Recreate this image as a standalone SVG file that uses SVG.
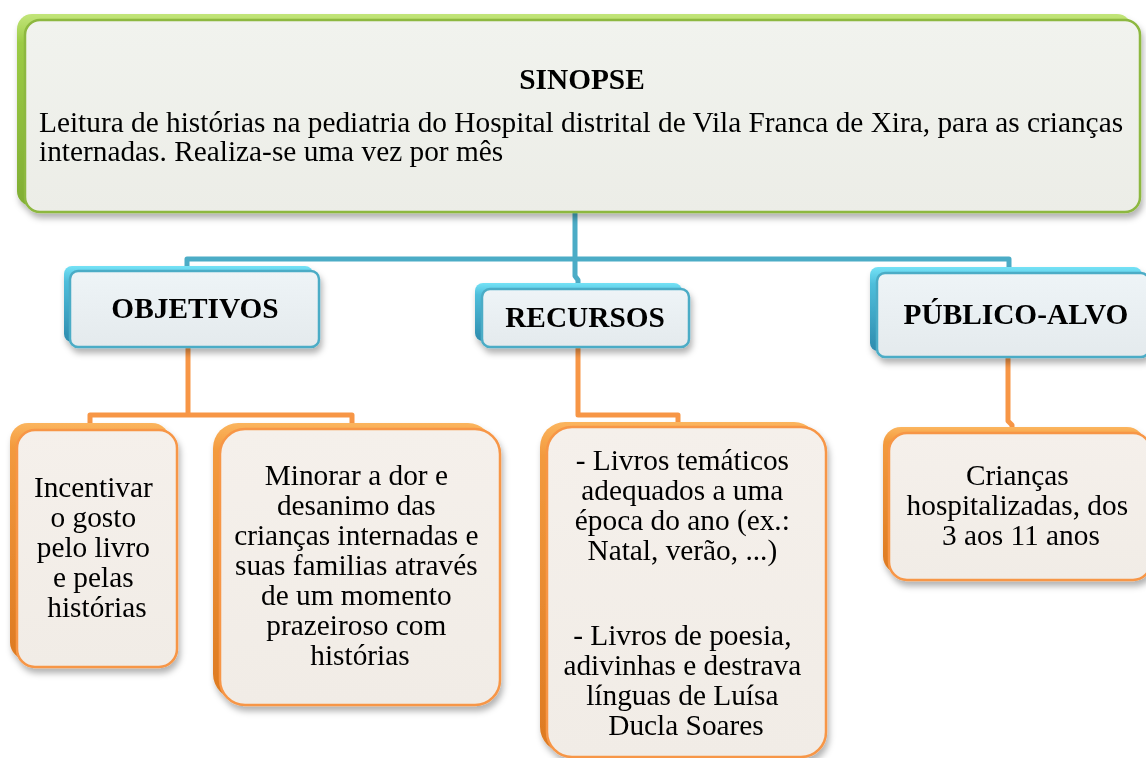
<svg xmlns="http://www.w3.org/2000/svg" width="1146" height="758" viewBox="0 0 1146 758">
  <defs>
    <filter id="sh" x="-10%" y="-10%" width="120%" height="130%">
      <feDropShadow dx="2" dy="5" stdDeviation="3" flood-color="#000" flood-opacity="0.3"/>
    </filter>
    <linearGradient id="gBack" x1="0" y1="0" x2="0" y2="1">
      <stop offset="0" stop-color="#C2E57A"/>
      <stop offset="0.15" stop-color="#9CCB45"/>
      <stop offset="1" stop-color="#80AE34"/>
    </linearGradient>
    <linearGradient id="gFace" x1="0" y1="0" x2="0" y2="1">
      <stop offset="0" stop-color="#F1F3EE"/>
      <stop offset="1" stop-color="#ECEDE7"/>
    </linearGradient>
    <linearGradient id="bBack" x1="0" y1="0" x2="0" y2="1">
      <stop offset="0" stop-color="#74E2F6"/>
      <stop offset="0.2" stop-color="#4FBEDB"/>
      <stop offset="1" stop-color="#2E8CAE"/>
    </linearGradient>
    <linearGradient id="bFace" x1="0" y1="0" x2="0" y2="1">
      <stop offset="0" stop-color="#EEF4F7"/>
      <stop offset="1" stop-color="#E4EAED"/>
    </linearGradient>
    <linearGradient id="oBack" x1="0" y1="0" x2="0" y2="1">
      <stop offset="0" stop-color="#FBB55E"/>
      <stop offset="0.1" stop-color="#F39A3E"/>
      <stop offset="1" stop-color="#DD7A22"/>
    </linearGradient>
    <linearGradient id="oFace" x1="0" y1="0" x2="0" y2="1">
      <stop offset="0" stop-color="#F5F0EB"/>
      <stop offset="1" stop-color="#F1ECE6"/>
    </linearGradient>
    <style>
      .gb{fill:url(#gBack)}
      .gf{fill:url(#gFace);stroke:#8DB83F;stroke-width:2.5}
      .bb{fill:url(#bBack)}
      .bf{fill:url(#bFace);stroke:#4BACC6;stroke-width:2.5}
      .ob{fill:url(#oBack)}
      .of{fill:url(#oFace);stroke:#F79646;stroke-width:2.5}
      .t{font-family:"Liberation Serif","Times New Roman",serif;font-size:29.33px;fill:#000}
      .h{font-family:"Liberation Serif","Times New Roman",serif;font-size:29.33px;font-weight:bold;fill:#000;text-anchor:middle}
      .c{text-anchor:middle}
      .bl{fill:none;stroke:#4BACC6;stroke-width:5;stroke-linejoin:round}
      .ol{fill:none;stroke:#F79646;stroke-width:5;stroke-linejoin:round}
    </style>
  </defs>

  <g id="connectors">
    <path class="bl" d="M575 212 V276 L578 280 V286"/>
    <path class="bl" d="M187 267 V259 H1009 V268"/>
    <path class="ol" d="M188 347 V415"/>
    <path class="ol" d="M90 424 V415 H352 V424"/>
    <path class="ol" d="M578 347 V415 H678 V423"/>
    <path class="ol" d="M1008 357 V421 L1012 425 V428"/>
  </g>

  <g id="sinopse" filter="url(#sh)">
    <rect class="gb" x="17" y="14" width="1115" height="192" rx="15"/>
    <rect class="gf" x="25" y="20" width="1115" height="192" rx="15"/>
    <text class="h" x="582" y="89">SINOPSE</text>
    <text class="t" x="39" y="132">Leitura de histórias na pediatria do Hospital distrital de Vila Franca de Xira, para as crianças</text>
    <text class="t" x="39" y="161">internadas. Realiza-se uma vez por mês</text>
  </g>

  <g id="objetivos" filter="url(#sh)">
    <rect class="bb" x="64" y="266" width="249" height="76" rx="8"/>
    <rect class="bf" x="70" y="271" width="249" height="76" rx="8"/>
    <text class="h" x="195" y="318">OBJETIVOS</text>
  </g>

  <g id="recursos" filter="url(#sh)">
    <rect class="bb" x="475" y="283" width="207" height="58" rx="8"/>
    <rect class="bf" x="482" y="289" width="207" height="58" rx="8"/>
    <text class="h" x="585" y="327">RECURSOS</text>
  </g>

  <g id="publico-alvo" filter="url(#sh)">
    <rect class="bb" x="870" y="267" width="272" height="84" rx="8"/>
    <rect class="bf" x="877" y="273" width="272" height="84" rx="8"/>
    <text class="h" x="1016" y="324">PÚBLICO-ALVO</text>
  </g>

  <g id="incentivar" filter="url(#sh)">
    <rect class="ob" x="10" y="423" width="160" height="237" rx="18"/>
    <rect class="of" x="17" y="430" width="160" height="237" rx="18"/>
    <text class="t c" x="97">
      <tspan x="97" y="497">Incentivar</tspan>
      <tspan x="97" y="527">o gosto</tspan>
      <tspan x="97" y="557">pelo livro</tspan>
      <tspan x="97" y="587">e pelas</tspan>
      <tspan x="97" y="617">histórias</tspan>
    </text>
  </g>

  <g id="minorar" filter="url(#sh)">
    <rect class="ob" x="213" y="423" width="280" height="276" rx="25"/>
    <rect class="of" x="220" y="429" width="280" height="276" rx="25"/>
    <text class="t c">
      <tspan x="360" y="485">Minorar a dor e</tspan>
      <tspan x="360" y="515">desanimo das</tspan>
      <tspan x="360" y="545">crianças internadas e</tspan>
      <tspan x="360" y="575">suas familias através</tspan>
      <tspan x="360" y="605">de um momento</tspan>
      <tspan x="360" y="635">prazeiroso com</tspan>
      <tspan x="360" y="665">histórias</tspan>
    </text>
  </g>

  <g id="livros" filter="url(#sh)">
    <rect class="ob" x="540" y="422" width="279" height="330" rx="25"/>
    <rect class="of" x="547" y="427" width="279" height="330" rx="25"/>
    <text class="t c">
      <tspan x="686" y="470">- Livros temáticos</tspan>
      <tspan x="686" y="500">adequados a uma</tspan>
      <tspan x="686" y="530">época do ano (ex.:</tspan>
      <tspan x="686" y="560">Natal, verão, ...)</tspan>
      <tspan x="686" y="645">- Livros de poesia,</tspan>
      <tspan x="686" y="675">adivinhas e destrava</tspan>
      <tspan x="686" y="705">línguas de Luísa</tspan>
      <tspan x="686" y="735">Ducla Soares</tspan>
    </text>
  </g>

  <g id="criancas" filter="url(#sh)">
    <rect class="ob" x="883" y="427" width="262" height="147" rx="18"/>
    <rect class="of" x="889" y="433" width="262" height="147" rx="18"/>
    <text class="t c">
      <tspan x="1021" y="485">Crianças</tspan>
      <tspan x="1021" y="515">hospitalizadas, dos</tspan>
      <tspan x="1021" y="545">3 aos 11 anos</tspan>
    </text>
  </g>
</svg>
